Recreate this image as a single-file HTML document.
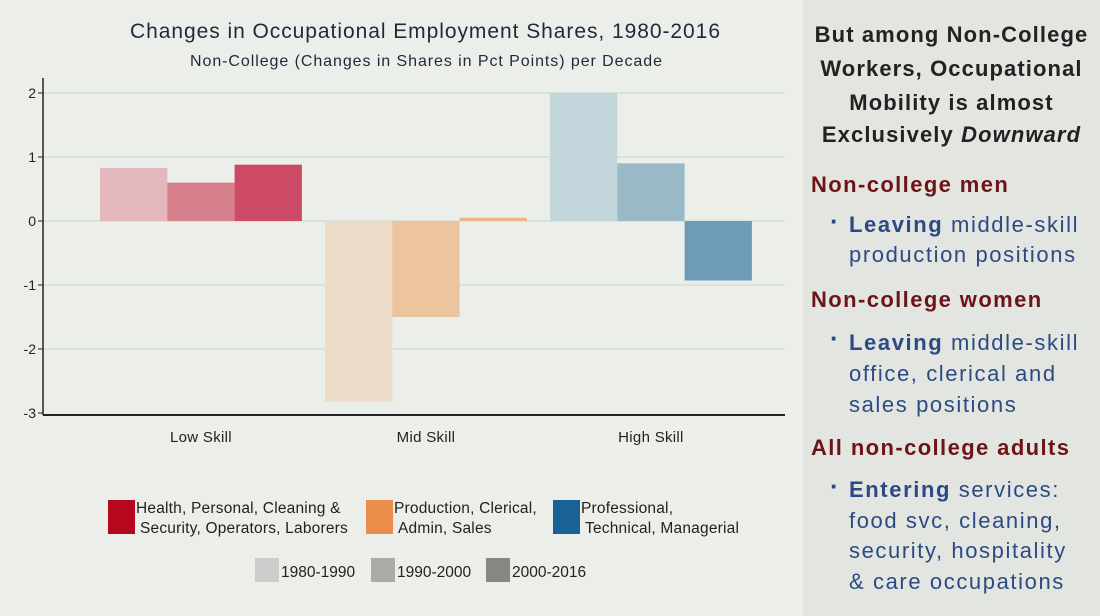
<!DOCTYPE html>
<html><head><meta charset="utf-8"><style>
body{margin:0;width:1100px;height:616px;overflow:hidden;background:#eceee9;font-family:"Liberation Sans",sans-serif;position:relative}
#panel{position:absolute;left:803px;top:0;width:297px;height:616px;background:#e3e5e1}
.t{position:absolute;white-space:nowrap;font-weight:bold;font-size:22px;line-height:30px}
.h{color:#222;width:297px;left:0;text-align:center;letter-spacing:1.1px}
.r{color:#6e1418;left:8px;letter-spacing:1.4px}
.b{color:#2b4a84;font-weight:normal;left:46px;letter-spacing:1.6px}
.b b{font-weight:bold}
.dot{position:absolute;left:27px;color:#2b4a84;font-size:26px;font-weight:bold}
</style></head><body>
<svg id="chart" width="803" height="616" style="position:absolute;left:0;top:0"></svg>
<div id="panel">
<div class="t h" style="top:20px">But among Non-College</div>
<div class="t h" style="top:54px">Workers, Occupational</div>
<div class="t h" style="top:88px">Mobility is almost</div>
<div class="t h" style="top:120px">Exclusively <i>Downward</i></div>
<div class="t r" style="top:170px">Non-college men</div>
<div class="dot" style="top:206px">·</div>
<div class="t b" style="top:210px"><b>Leaving</b> middle-skill<br>production positions</div>
<div class="t r" style="top:285px">Non-college women</div>
<div class="dot" style="top:323px">·</div>
<div class="t b" style="top:327px;line-height:31px"><b>Leaving</b> middle-skill<br>office, clerical and<br>sales positions</div>
<div class="t r" style="top:433px">All non-college adults</div>
<div class="dot" style="top:471px">·</div>
<div class="t b" style="top:475px;line-height:30.5px"><b>Entering</b> services:<br>food svc, cleaning,<br>security, hospitality<br>&amp; care occupations</div>
</div>
<script>
const categories=["Low Skill","Mid Skill","High Skill"];
const periods=["1980-1990","1990-2000","2000-2016"];
const v1980=[0.83,-2.82,2.0];
const v1990=[0.6,-1.5,0.9];
const v2000=[0.88,0.05,-0.93];
const yTicks=[2,1,0,-1,-2,-3];
const groupLabels=["Health, Personal, Cleaning &|Security, Operators, Laborers","Production, Clerical,|Admin, Sales","Professional,|Technical, Managerial"];
const colors=[["#e3b7bc","#d57f8b","#cc4a63"],["#ecdcc8","#ecc59f","#eab58d"],["#c3d6dc","#98b9c5","#6e9cb6"]];
const svg=document.getElementById('chart');
const NS="http://www.w3.org/2000/svg";
function mk(t,a,p){const e=document.createElementNS(NS,t);for(const k in a)e.setAttribute(k,a[k]);(p||svg).appendChild(e);return e;}
const x0=43,x1=785;
const y=v=>221-v*64;
const gx=i=>100+i*225;
const bw=67.3;
yTicks.forEach(t=>{
 if(t>-3){const g=mk('line',{x1:x0,x2:x1,y1:y(t),y2:y(t),stroke:'#d5dedb','stroke-width':1.5});
 }
 const tk=mk('line',{x1:x0-5,x2:x0,y1:y(t),y2:y(t),stroke:'#222'});
 
 const l=mk('text',{x:x0-7,y:y(t)+5,'text-anchor':'end','font-size':14,fill:'#222'});l.textContent=t;
 
});
const series=[v1980,v1990,v2000];
categories.forEach((c,i)=>{
 series.forEach((s,j)=>{
  const v=s[i];const r=mk('rect',{x:gx(i)+j*bw,y:Math.min(y(v),y(0)),width:bw,height:Math.abs(y(v)-y(0)),fill:colors[i][j]});
  
  
 });
 const l=mk('text',{x:gx(i)+1.5*bw,y:442,'text-anchor':'middle','font-size':15,fill:'#222','letter-spacing':'0.3'});l.textContent=c;
 
});
const ax=mk('line',{x1:x0,x2:x0,y1:78,y2:y(-3)+2,stroke:'#222','stroke-width':1.5});

const bx=mk('line',{x1:x0,x2:x1,y1:y(-3)+2,y2:y(-3)+2,stroke:'#222','stroke-width':2});

const t1=mk('text',{x:130,y:38,'font-size':21,fill:'#1e2a3a',textLength:590,lengthAdjust:'spacing'});t1.textContent="Changes in Occupational Employment Shares, 1980-2016";

const t2=mk('text',{x:190,y:66,'font-size':16,fill:'#1e2a3a',textLength:472,lengthAdjust:'spacing'});t2.textContent="Non-College (Changes in Shares in Pct Points) per Decade";

const legCols=["#b5071e","#eb8e4b","#1a6296"];const legX=[108,366,553];
groupLabels.forEach((g,i)=>{
 const r=mk('rect',{x:legX[i],y:500,width:27,height:34,fill:legCols[i]});
 
 g.split('|').forEach((ln,k)=>{const t=mk('text',{x:legX[i]+28+k*4,y:513+k*20,'font-size':15.5,fill:'#222','letter-spacing':'0.2'});t.textContent=ln;
 });
});
const pCols=["#cbcdca","#a9aba8","#858783"];const pX=[255,371,486];
periods.forEach((p,i)=>{
 const r=mk('rect',{x:pX[i],y:558,width:24,height:24,fill:pCols[i]});
 
 const t=mk('text',{x:pX[i]+26,y:577,'font-size':15.5,fill:'#222'});t.textContent=p;
 
});
</script>
</body></html>
